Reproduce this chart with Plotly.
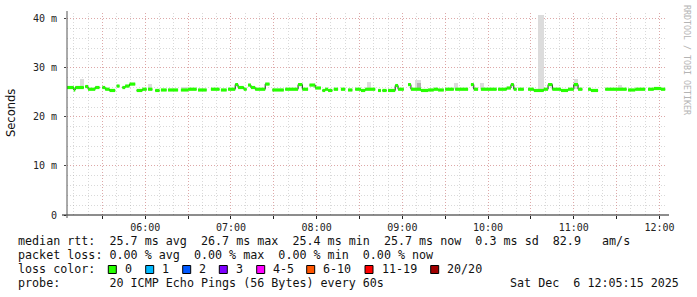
import plotly.graph_objects as go
from datetime import datetime, timedelta

DAY = "2025-12-06"
T_START = "05:05:15"
T_END = "12:05:15"

# median rtt segments (start time, value in ms; None = no data)
seg_start = ["05:05", "05:10", "05:11", "05:17", "05:18", "05:20", "05:25", "05:28", "05:30", "05:32",
             "05:35", "05:39", "05:40", "05:42", "05:44", "05:46", "05:49", "05:53", "05:54", "05:58",
             "06:01", "06:02", "06:05", "06:07", "06:10", "06:11", "06:15", "06:16", "06:23", "06:25",
             "06:30", "06:36", "06:37", "06:43", "06:46", "06:52", "06:53", "06:57", "06:58", "07:03",
             "07:05", "07:09", "07:11", "07:12", "07:14", "07:17", "07:24", "07:27", "07:29", "07:37",
             "07:38", "07:47", "07:50", "07:54", "07:55", "07:59", "08:03", "08:04", "08:06", "08:08",
             "08:11", "08:12", "08:15", "08:17", "08:20", "08:22", "08:25", "08:27", "08:31", "08:34",
             "08:41", "08:43", "08:45", "08:46", "08:49", "08:50", "08:55", "08:57", "09:01", "09:04",
             "09:06", "09:13", "09:18", "09:22", "09:25", "09:29", "09:30", "09:36", "09:37", "09:46",
             "09:48", "09:50", "09:53", "09:55", "10:06", "10:07", "10:13", "10:16", "10:18", "10:20",
             "10:21", "10:25", "10:28", "10:32", "10:39", "10:42", "10:45", "10:51", "10:56", "11:00",
             "11:03", "11:06", "11:10", "11:12", "11:17", "11:22", "11:37", "11:38", "11:43", "11:50",
             "11:52", "11:56", "12:01"]
seg_value = [26.0, 25.5, 26.0, None, 26.2, 25.65, 26.0, None, 26.0, 25.65,
             25.4, None, 26.3, None, 26.0, 26.3, 26.7, None, 25.4, 25.65,
             None, 25.65, None, 25.4, None, 25.5, None, 25.5, None, 25.5,
             25.65, None, 25.5, None, 25.65, None, 25.5, None, 25.65, 26.6,
             26.0, 25.65, None, 26.5, 26.0, 25.65, 26.7, None, 25.5, None,
             25.65, 26.6, 25.65, None, 26.5, 25.9, None, 25.4, 25.65, 25.4,
             None, 25.65, None, 25.65, None, 25.5, None, 25.65, 25.4, 25.65,
             None, 25.4, None, 25.4, None, 25.4, 26.4, 25.65, None, 26.6,
             25.65, 25.4, 25.5, 25.65, 25.5, None, 25.65, None, 25.65, None,
             26.6, 25.65, None, 25.65, None, 25.65, 25.9, 26.6, 25.65, None,
             25.65, None, 25.65, 25.4, 25.65, 26.6, 25.65, 25.4, 25.65, 26.6,
             25.65, None, 25.65, 25.4, None, 25.65, None, 25.5, 25.65, None,
             25.65, 25.8, 25.65]
seg_last_end = "12:04"

# smoke (spread of the pings)
smoke_from = ["05:14", "06:02", "06:26", "08:35", "09:09", "09:36", "09:54", "10:35", "11:00", "11:31"]
smoke_to = ["05:17", "06:05", "06:29", "08:38", "09:13", "09:39", "09:57", "10:39", "11:03", "11:34"]
smoke_top = [27.7, 26.7, 26.2, 27.2, 27.55, 27.0, 27.0, 40.8, 27.75, 26.5]
smoke_low = [25.6, 25.6, 25.5, 25.6, 25.6, 25.6, 25.6, 25.4, 25.6, 25.6]
dark_from = ["09:10"]
dark_to = ["09:13"]
dark_top = [26.9]
dark_low = [25.6]

x_tick_times = ["05:30", "06:00", "06:30", "07:00", "07:30", "08:00", "08:30", "09:00", "09:30",
                "10:00", "10:30", "11:00", "11:30", "12:00"]
x_tick_labels = ["", "06:00", "", "07:00", "", "08:00", "", "09:00", "", "10:00", "", "11:00", "", "12:00"]
y_tick_vals = [0, 10, 20, 30, 40]
y_tick_labels = ["0", "10 m", "20 m", "30 m", "40 m"]
Y_MAX = 41.2

line_rtt = "median rtt:  25.7 ms avg  26.7 ms max  25.4 ms min  25.7 ms now  0.3 ms sd  82.9   am/s"
line_loss = "packet loss: 0.00 % avg  0.00 % max  0.00 % min  0.00 % now"
line_color = "loss color:"
line_probe = "probe:       20 ICMP Echo Pings (56 Bytes) every 60s"
line_date = "Sat Dec  6 12:05:15 2025"
loss_labels = ["0", "1", "2", "3", "4-5", "6-10", "11-19", "20/20"]
loss_colors = ["#26ff00", "#00b8ff", "#0059ff", "#7e00ff", "#ff00ff", "#ff5500", "#ff0000", "#a10000"]

# ---------------------------------------------------------------- layout constants
W, H = 697, 297
L, R, TOP, B = 67, 30, 13, 82
PW, PH = W - L - R, H - TOP - B
MONO = "DejaVu Sans Mono"


def T(hm):
    fmt = "%Y-%m-%d %H:%M:%S" if hm.count(":") == 2 else "%Y-%m-%d %H:%M"
    return datetime.strptime(f"{DAY} {hm}", fmt)


def px(x):
    return (x - L) / PW


def py(y):
    return (H - B - y) / PH


def nb(s):
    return s.replace(" ", "\u00a0")


fig = go.Figure()

# smoke bars
for f_, t_, top, low, col in [(smoke_from, smoke_to, smoke_top, smoke_low, "#dcdcdc"),
                              (dark_from, dark_to, dark_top, dark_low, "#b0b0b0")]:
    mids = [T(a) + (T(b) - T(a)) / 2 for a, b in zip(f_, t_)]
    widths = [(T(b) - T(a)).total_seconds() * 1000 for a, b in zip(f_, t_)]
    fig.add_trace(go.Bar(x=mids, y=[h - l for h, l in zip(top, low)], base=low, width=widths,
                         marker=dict(color=col, line=dict(width=0)), showlegend=False, hoverinfo="skip"))

# median line
ends = seg_start[1:] + [seg_last_end]
gx, gy, bx, by = [], [], [], []
for s, e, v in zip(seg_start, ends, seg_value):
    if v is None:
        bx.append(None)
        by.append(None)
        continue
    gx += [T(s), T(e), None]
    gy += [v, v, None]
    bx += [T(s), T(e)]
    by += [v, v]
fig.add_trace(go.Scatter(x=bx, y=by, mode="lines", line=dict(color="#202020", width=1),
                         connectgaps=False, showlegend=False, hoverinfo="skip"))
fig.add_trace(go.Scatter(x=gx, y=gy, mode="lines", line=dict(color=loss_colors[0], width=3.2),
                         connectgaps=False, showlegend=False, hoverinfo="skip"))

# axis arrows
t0, t1 = T(T_START), T(T_END)
sec_per_px = (t1 - t0).total_seconds() / PW
fig.add_trace(go.Scatter(x=[t1 + timedelta(seconds=3.5 * sec_per_px)], y=[0], mode="markers",
                         marker=dict(symbol="triangle-right", size=6, color="#a01010"),
                         cliponaxis=False, showlegend=False, hoverinfo="skip"))
fig.add_trace(go.Scatter(x=[t0], y=[Y_MAX * (PH + 2.5) / PH], mode="markers",
                         marker=dict(symbol="triangle-up", size=6, color="#a01010"),
                         cliponaxis=False, showlegend=False, hoverinfo="skip"))

major = "rgba(225,120,120,0.5)"
minor = "rgba(160,160,160,0.4)"
fig.update_layout(
    width=W, height=H, margin=dict(l=L, r=R, t=TOP, b=B, pad=0),
    paper_bgcolor="white", plot_bgcolor="white", barmode="overlay", bargap=0,
    xaxis=dict(type="date", range=[t0, t1], tickmode="array",
               tickvals=[T(t) for t in x_tick_times], ticktext=x_tick_labels,
               ticks="outside", ticklen=3, tickcolor="#222", tickwidth=1,
               tickfont=dict(family=MONO, size=10, color="#222"),
               showgrid=True, gridcolor=major, griddash="1px,2px", gridwidth=1,
               minor=dict(dtick=600000, tick0=T("05:00"), showgrid=True, gridcolor=minor,
                          griddash="1px,2px", ticks=""),
               zeroline=False, showline=False, fixedrange=True),
    yaxis=dict(range=[0, Y_MAX], tickmode="array", tickvals=y_tick_vals, ticktext=y_tick_labels,
               ticks="outside", ticklen=2, tickcolor="#444",
               tickfont=dict(family=MONO, size=10, color="#222"), ticklabelstandoff=5,
               showgrid=True, gridcolor=major, griddash="1px,2px", gridwidth=1,
               minor=dict(dtick=2, tick0=0, showgrid=True, gridcolor=minor, griddash="1px,2px", ticks=""),
               zeroline=False, showline=False, fixedrange=True),
)

shapes = [
    dict(type="line", xref="paper", yref="paper", x0=px(62), x1=px(669), y0=py(215), y1=py(215),
         line=dict(color="#1a1a1a", width=1)),
    dict(type="line", xref="paper", yref="paper", x0=px(67), x1=px(67), y0=py(218), y1=py(11),
         line=dict(color="#555555", width=1)),
]

ann = []


def text(x, y, s, size=11.7, family=MONO, color="#111", xanchor="left", angle=0, yanchor="middle"):
    ann.append(dict(xref="paper", yref="paper", x=px(x), y=py(y), text=nb(s), showarrow=False,
                    xanchor=xanchor, yanchor=yanchor, textangle=angle,
                    font=dict(family=family, size=size, color=color)))


text(16, 241, line_rtt)
text(16, 255, line_loss)
text(16, 269, line_color)
text(16, 283, line_probe)
text(681, 283, line_date, xanchor="right")

box_x = [108.3, 145.7, 182.7, 219.3, 256.7, 306.7, 365.0, 430.7]
for bxp, lab, col in zip(box_x, loss_labels, loss_colors):
    shapes.append(dict(type="rect", xref="paper", yref="paper", x0=px(bxp), x1=px(bxp + 8),
                       y0=py(273.5), y1=py(265.5), fillcolor=col, line=dict(color="#000", width=1)))
    text(bxp + 14.7, 269, lab)

text(11, 113, "Seconds", size=11.5, family="DejaVu Sans", color="#111", xanchor="center", angle=-90)
text(687, 60, "RRDTOOL / TOBI OETIKER", size=8.3, color="#b4b4b4", xanchor="center", angle=90)

fig.update_layout(shapes=shapes, annotations=ann)
fig.write_html("out.html")
